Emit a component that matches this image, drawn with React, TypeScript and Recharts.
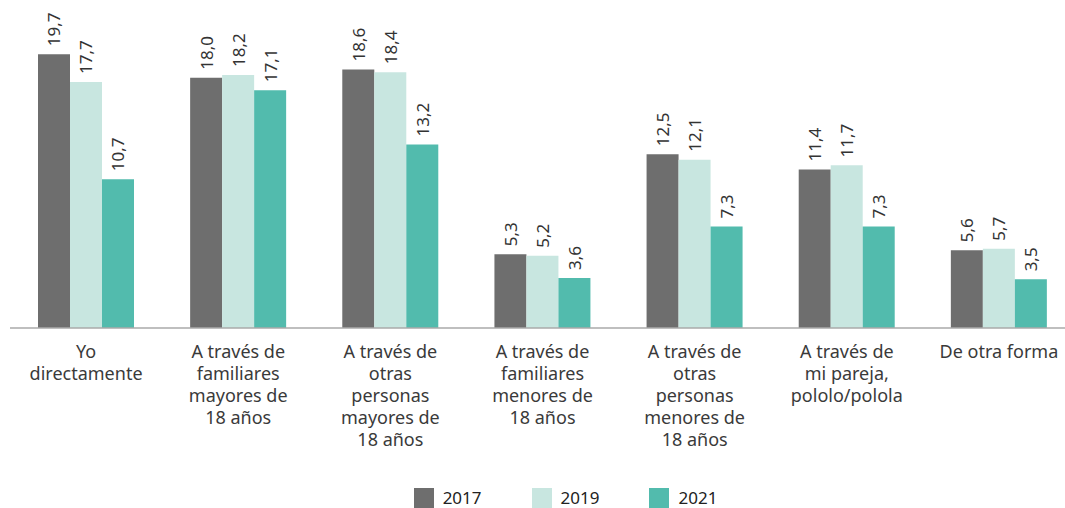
import { BarChart, Bar, XAxis, YAxis, Legend, LabelList } from "recharts";

const categories = [
  "Yo|directamente",
  "A través de|familiares|mayores de|18 años",
  "A través de|otras|personas|mayores de|18 años",
  "A través de|familiares|menores de|18 años",
  "A través de|otras|personas|menores de|18 años",
  "A través de|mi pareja,|pololo/polola",
  "De otra forma",
];
const values2017 = [19.7, 18.0, 18.6, 5.3, 12.5, 11.4, 5.6];
const values2019 = [17.7, 18.2, 18.4, 5.2, 12.1, 11.7, 5.7];
const values2021 = [10.7, 17.1, 13.2, 3.6, 7.3, 7.3, 3.5];

const series = [
  { key: "y2017", name: "2017", color: "#6e6e6e" },
  { key: "y2019", name: "2019", color: "#c8e6e0" },
  { key: "y2021", name: "2021", color: "#52bbad" },
];

const data = categories.map((c, i) => ({
  name: c,
  y2017: values2017[i],
  y2019: values2019[i],
  y2021: values2021[i],
}));

const FONT = "'Noto Sans', sans-serif";

const CategoryTick = (props: any) => {
  const { x, y, payload } = props;
  const lines = String(payload.value).split("|");
  return (
    <g transform={`translate(${x},${y})`}>
      {lines.map((l, i) => (
        <text
          key={i}
          x={0}
          y={22 + i * 22}
          textAnchor="middle"
          fontSize={18}
          fontFamily={FONT}
          fill="#3a3a3a"
        >
          {l}
        </text>
      ))}
    </g>
  );
};

const ValueLabel = (props: any) => {
  const { x, y, width, value } = props;
  const cx = x + width / 2;
  const cy = y - 8;
  return (
    <text
      x={cx}
      y={cy}
      transform={`rotate(-90 ${cx} ${cy})`}
      textAnchor="start"
      dominantBaseline="central"
      fontSize={17}
      fontFamily={FONT}
      fill="#333"
    >
      {Number(value).toFixed(1).replace(".", ",")}
    </text>
  );
};

const LegendContent = () => (
  <div
    style={{
      display: "flex",
      justifyContent: "center",
      gap: 50,
      fontFamily: FONT,
      fontSize: 17,
      color: "#222",
      paddingLeft: 46,
      paddingTop: 21,
    }}
  >
    {series.map((s) => (
      <div key={s.key} style={{ display: "flex", alignItems: "center" }}>
        <span
          style={{
            width: 20,
            height: 20,
            background: s.color,
            display: "inline-block",
            marginRight: 9,
          }}
        />
        {s.name}
      </div>
    ))}
  </div>
);

export default function App() {
  return (
    <div style={{ position: "absolute", left: 0, top: 0, background: "#fff", width: 1065, height: 508, overflow: "hidden" }}>
      <BarChart
        width={1065}
        height={508}
        data={data}
        margin={{ top: 50, right: -10, left: 10, bottom: 0 }}
        barGap={0}
        barCategoryGap={28}
      >
        <XAxis
          dataKey="name"
          tick={<CategoryTick />}
          tickLine={false}
          axisLine={{ stroke: "#aaa", strokeWidth: 1.5 }}
          interval={0}
          height={137}
        />
        <YAxis hide domain={[0, 20]} />
        <Legend
          verticalAlign="bottom"
          height={43}
          content={<LegendContent />}
        />
        {series.map((s) => (
          <Bar
            key={s.key}
            dataKey={s.key}
            name={s.name}
            fill={s.color}
            barSize={32}
            isAnimationActive={false}
          >
            <LabelList dataKey={s.key} content={<ValueLabel />} />
          </Bar>
        ))}
      </BarChart>
    </div>
  );
}
